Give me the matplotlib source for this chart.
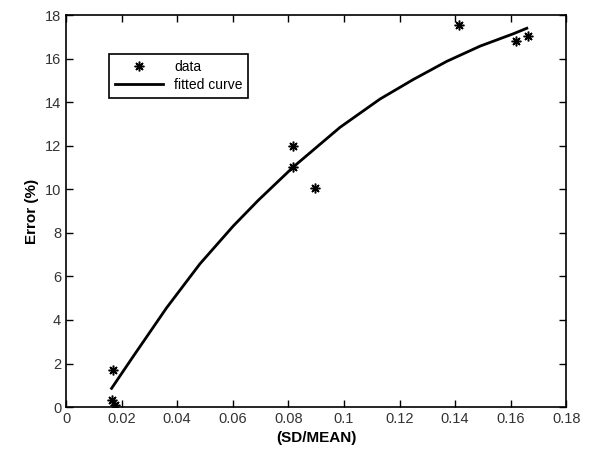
import numpy as np
import matplotlib.pyplot as plt

plt.rcParams['font.family'] = ['Liberation Sans', 'DejaVu Sans']

# measured points
sd_mean = [0.0169, 0.0166, 0.0176, 0.0817, 0.0817, 0.0896, 0.1415, 0.1620, 0.1663]
error = [1.70, 0.32, 0.08, 12.0, 11.05, 10.05, 17.55, 16.8, 17.06]

# fitted curve
fit_x = [0.0164, 0.0242, 0.0362, 0.0482, 0.0602, 0.0692, 0.0817, 0.0986,
         0.1130, 0.1250, 0.1370, 0.1490, 0.1610, 0.1658]
fit_y = [0.86, 2.33, 4.56, 6.58, 8.32, 9.50, 11.02, 12.85,
         14.15, 15.05, 15.88, 16.58, 17.15, 17.40]

fig = plt.figure(figsize=(5.92, 4.61), dpi=100)
ax = fig.add_axes([0.1115, 0.117, 0.845, 0.85])

ax.plot(sd_mean, error, linestyle='none', marker=(8, 2, 0), markersize=7,
        color='black', markeredgewidth=1.1, label='data')
ax.plot(fit_x, fit_y, color='black', linewidth=2, label='fitted curve')

ax.set_xlim(0, 0.18)
ax.set_ylim(0, 18)
ax.set_xticks(np.arange(0, 0.181, 0.02))
ax.set_xticklabels(['0', '0.02', '0.04', '0.06', '0.08', '0.1', '0.12', '0.14', '0.16', '0.18'])
ax.set_yticks(range(0, 19, 2))
ax.tick_params(direction='in', top=True, right=True, length=5, labelsize=10.5,
               labelcolor='#333333', width=1)
for s in ax.spines.values():
    s.set_linewidth(1.2)

ax.set_xlabel('(SD/MEAN)', fontsize=11, fontweight='bold')
ax.set_ylabel('Error (%)', fontsize=11, fontweight='bold')

leg = ax.legend(loc='upper left', bbox_to_anchor=(0.072, 0.918), fancybox=False,
                edgecolor='black', framealpha=1, fontsize=10, handlelength=3.5,
                borderpad=0.4, labelspacing=0.3)
leg.get_frame().set_linewidth(1.2)

fig.savefig('out.png', dpi=100)
